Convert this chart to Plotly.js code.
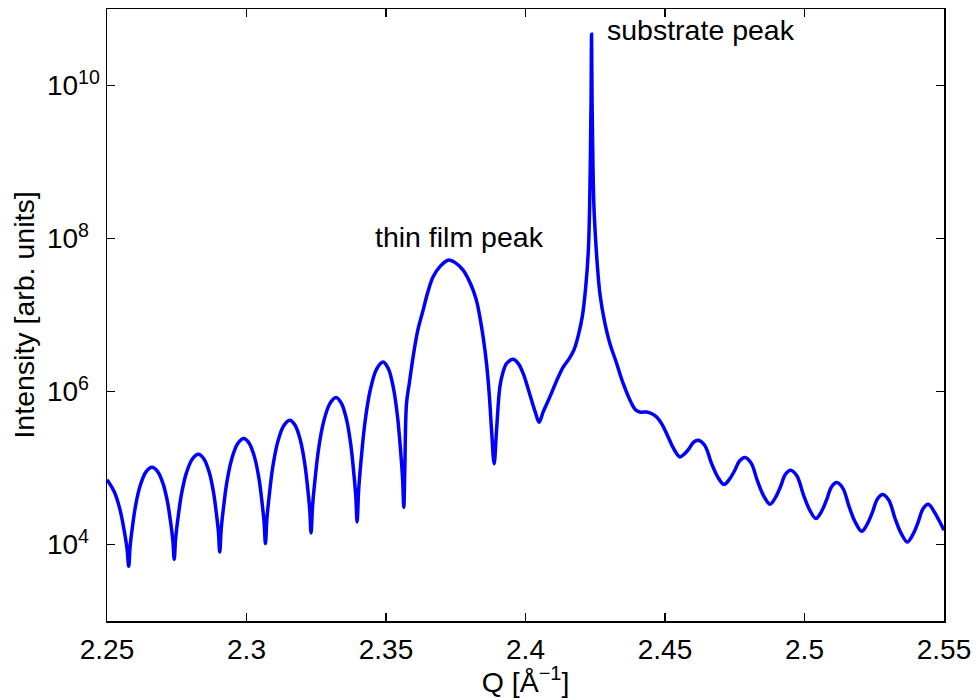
<!DOCTYPE html>
<html>
<head>
<meta charset="utf-8">
<script src="https://cdn.plot.ly/plotly-3.0.1.min.js"></script>
<style>html,body{margin:0;padding:0;background:#fff;}#chart{width:977px;height:698px;}</style>
</head>
<body>
<div id="chart"></div>
<script>
// Scattering vector Q [1/Angstrom]
const q = [
  2.25, 2.25264, 2.25470, 2.25624, 2.25716, 2.25778,
  2.25828, 2.25903, 2.26029, 2.26196, 2.26404, 2.26613, 2.26812, 2.27011, 2.27170, 2.27290, 2.27361, 2.27409,
  2.27461, 2.27539, 2.27669, 2.27843, 2.28060, 2.28277, 2.28468, 2.28659, 2.28812, 2.28926, 2.28995, 2.29041,
  2.29093, 2.29170, 2.29299, 2.29471, 2.29686, 2.29901, 2.30096, 2.30290, 2.30446, 2.30562, 2.30632, 2.30679,
  2.30731, 2.30810, 2.30941, 2.31115, 2.31333, 2.31551, 2.31742, 2.31933, 2.32085, 2.32200, 2.32268, 2.32314,
  2.32368, 2.32449, 2.32583, 2.32763, 2.32987, 2.33211, 2.33399, 2.33588, 2.33738, 2.33851, 2.33919, 2.33964,
  2.34020, 2.34104, 2.34244, 2.34430, 2.34663, 2.34896, 2.35082, 2.35267, 2.35415, 2.35527, 2.35594, 2.35638,
  2.35674, 2.35735, 2.35836, 2.35972, 2.36140, 2.36330, 2.36499, 2.36689, 2.36947, 2.37227, 2.37503,
  2.37764, 2.37951, 2.38123, 2.38257, 2.38363, 2.38488, 2.38603, 2.38703, 2.38783, 2.38876,
  2.38962, 2.39081, 2.39188, 2.39321, 2.39561, 2.39744, 2.39916, 2.40217, 2.40351, 2.40489,
  2.40633, 2.40873, 2.41124, 2.41350, 2.41554, 2.41733, 2.41895, 2.42038, 2.42164, 2.42253,
  2.42296, 2.42325, 2.42350, 2.42368, 2.42386, 2.42415, 2.42451, 2.42504, 2.42569, 2.42666,
  2.42845, 2.43024, 2.43265, 2.43501, 2.43802, 2.43956, 2.44135, 2.44340, 2.44530, 2.44710,
  2.44889, 2.45068, 2.45247, 2.45409, 2.45534, 2.45699, 2.45864, 2.46026, 2.46190, 2.46427,
  2.46653, 2.46884, 2.47112, 2.47300, 2.47488, 2.47677, 2.47865, 2.48089, 2.48313, 2.48537,
  2.48762, 2.48947, 2.49132, 2.49317, 2.49503, 2.49729, 2.49957, 2.50184, 2.50411, 2.50597,
  2.50782, 2.50967, 2.51153, 2.51377, 2.51601, 2.51825, 2.52049, 2.52237, 2.52426, 2.52614,
  2.52802, 2.53024, 2.53243, 2.53463, 2.53684, 2.53872, 2.54061, 2.54249, 2.54437, 2.54660,
  2.54856, 2.55
];
// Intensity, as decades (log10 of intensity in arb. units)
const intensityDecades = [
  4.847, 4.687, 4.450, 4.165, 3.952, 3.715,
  3.974, 4.207, 4.518, 4.777, 4.952, 5.010, 4.956, 4.793, 4.553, 4.264, 4.048, 3.807,
  4.082, 4.329, 4.658, 4.933, 5.118, 5.180, 5.122, 4.950, 4.694, 4.388, 4.158, 3.902,
  4.199, 4.466, 4.822, 5.119, 5.319, 5.386, 5.324, 5.139, 4.864, 4.534, 4.287, 4.012,
  4.335, 4.625, 5.012, 5.335, 5.552, 5.625, 5.559, 5.360, 5.065, 4.711, 4.446, 4.151,
  4.505, 4.824, 5.249, 5.603, 5.842, 5.922, 5.849, 5.629, 5.304, 4.913, 4.620, 4.295,
  4.713, 5.090, 5.592, 6.010, 6.293, 6.387, 6.301, 6.045, 5.665, 5.209, 4.867, 4.487,
  4.971, 5.843, 6.109, 6.453, 6.802, 7.064, 7.299, 7.499, 7.639, 7.717, 7.678,
  7.587, 7.469, 7.325, 7.168, 6.976, 6.697, 6.366, 5.952, 5.494, 5.056,
  5.494, 6.060, 6.246, 6.366, 6.423, 6.364, 6.236, 5.886, 5.730, 5.599,
  5.733, 5.930, 6.148, 6.318, 6.423, 6.540, 6.737, 6.985, 7.391, 7.848,
  8.371, 9.025, 9.810, 10.67, 9.810, 9.025, 8.437, 8.044, 7.678, 7.282,
  6.894, 6.628, 6.370, 6.105, 5.843, 5.756, 5.730, 5.733, 5.710, 5.664,
  5.573, 5.442, 5.298, 5.193, 5.145, 5.184, 5.254, 5.337, 5.363, 5.294,
  5.074, 4.888, 4.784, 4.848, 4.961, 5.095, 5.137, 5.064, 4.831, 4.636,
  4.526, 4.606, 4.749, 4.918, 4.971, 4.895, 4.655, 4.453, 4.339, 4.424,
  4.575, 4.753, 4.810, 4.734, 4.492, 4.288, 4.173, 4.259, 4.413, 4.595,
  4.653, 4.579, 4.343, 4.145, 4.033, 4.122, 4.280, 4.467, 4.526, 4.422,
  4.291, 4.186
];
const intensity = intensityDecades.map(d => Math.pow(10, d));

const xTickVals = [2.25, 2.3, 2.35, 2.4, 2.45, 2.5, 2.55];
const xTickText = ['2.25', '2.3', '2.35', '2.4', '2.45', '2.5', '2.55'];
const yTickVals = [1e4, 1e6, 1e8, 1e10];
const yTickText = ['10<sup>4\u2007</sup>', '10<sup>6\u2007</sup>', '10<sup>8\u2007</sup>', '10<sup>10</sup>'];

const labelTexts = ['thin film peak', 'substrate peak'];
const labelQ = [2.3765, 2.4286];
const labelIntensity = [1.05e8, 5.3e10];

const FONT = 'Liberation Sans, Arial, Helvetica, sans-serif';
const FS = 28.5;

const trace = {
  x: q, y: intensity, type: 'scatter', mode: 'lines',
  line: {color: '#0000ff', width: 3.5, shape: 'spline', smoothing: 1},
  hoverinfo: 'skip'
};

const axisCommon = {
  showline: true, linecolor: '#000', linewidth: 1.5, mirror: 'ticks',
  ticks: 'inside', ticklen: 8, tickwidth: 1.3, tickcolor: '#000',
  showgrid: false, zeroline: false,
  tickfont: {family: FONT, size: 28, color: '#000'}
};

const layout = {
  width: 977, height: 698,
  margin: {l: 107, r: 33, t: 9, b: 77, pad: 0},
  paper_bgcolor: '#fff', plot_bgcolor: '#fff',
  showlegend: false,
  font: {family: FONT, size: FS, color: '#000'},
  xaxis: Object.assign({}, axisCommon, {
    range: [2.25, 2.55], tickmode: 'array', tickvals: xTickVals, ticktext: xTickText,
    ticklabelstandoff: 3,
    title: {text: 'Q [Å<sup>\u22121</sup>]', font: {family: FONT, size: FS, color: '#000'}, standoff: 1}
  }),
  yaxis: Object.assign({}, axisCommon, {
    type: 'log', range: [3, 11], tickmode: 'array', tickvals: yTickVals, ticktext: yTickText,
    ticklabelstandoff: 0,
    title: {text: 'Intensity [arb. units]', font: {family: FONT, size: FS, color: '#000'}, standoff: 4}
  }),
  annotations: labelTexts.map((t, i) => ({
    text: t, x: labelQ[i], y: Math.log10(labelIntensity[i]), xref: 'x', yref: 'y',
    xanchor: i === 0 ? 'center' : 'left', yanchor: 'middle', showarrow: false,
    font: {family: FONT, size: FS, color: '#000'}
  }))
};

Plotly.newPlot('chart', [trace], layout, {staticPlot: true, displayModeBar: false});
</script>
</body>
</html>
